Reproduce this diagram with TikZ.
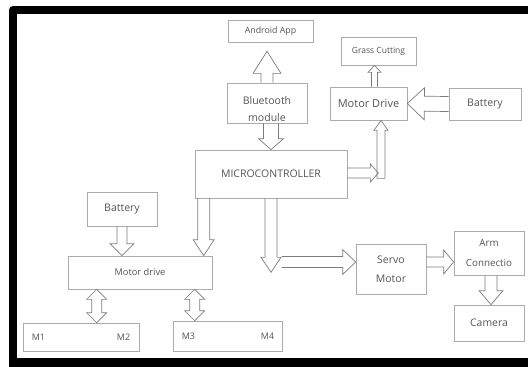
\documentclass[tikz,border=0pt]{standalone}
\usepackage{fontspec}
\setmainfont{Open Sans}
\usetikzlibrary{calc}
\definecolor{boxc}{HTML}{ABABAB}
\definecolor{arrc}{HTML}{7C7C7C}
\definecolor{txtc}{HTML}{555555}
\tikzset{
  box/.style={draw=boxc, line width=0.7pt, fill=white, text=txtc,
    font=\fontsize{8.5}{15}\selectfont, align=center, inner sep=1pt},
  txt/.style={text=txtc, font=\fontsize{8.5}{15}\selectfont, align=center, inner sep=1pt},
  fsz/.style 2 args={font=\fontsize{#1}{#2}\selectfont},
  barr/.style={draw=arrc, line width=0.7pt, line join=miter},
}
% single block arrow: from, to, shaft half, head half, head length
\newcommand\barrow[5]{%
  \coordinate (bh) at ($(#2)!#5pt!(#1)$);
  \draw[barr] ($(#1)!#3pt!90:(#2)$) -- ($(bh)!#3pt!90:(#2)$) -- ($(bh)!#4pt!90:(#2)$)
     -- (#2) -- ($(bh)!#4pt!-90:(#2)$) -- ($(bh)!#3pt!-90:(#2)$) -- ($(#1)!#3pt!-90:(#2)$);}
% closed single block arrow
\newcommand\cbarrow[5]{%
  \coordinate (bh) at ($(#2)!#5pt!(#1)$);
  \draw[barr] ($(#1)!#3pt!90:(#2)$) -- ($(bh)!#3pt!90:(#2)$) -- ($(bh)!#4pt!90:(#2)$)
     -- (#2) -- ($(bh)!#4pt!-90:(#2)$) -- ($(bh)!#3pt!-90:(#2)$) -- ($(#1)!#3pt!-90:(#2)$) -- cycle;}
% double block arrow
\newcommand\dbarrow[5]{%
  \coordinate (bha) at ($(#1)!#5pt!(#2)$);
  \coordinate (bhb) at ($(#2)!#5pt!(#1)$);
  \draw[barr] (#1) -- ($(bha)!#4pt!90:(#2)$) -- ($(bha)!#3pt!90:(#2)$) -- ($(bhb)!#3pt!90:(#2)$)
     -- ($(bhb)!#4pt!90:(#2)$) -- (#2) -- ($(bhb)!#4pt!-90:(#2)$) -- ($(bhb)!#3pt!-90:(#2)$)
     -- ($(bha)!#3pt!-90:(#2)$) -- ($(bha)!#4pt!-90:(#2)$) -- cycle;}
\begin{document}
\begin{tikzpicture}[x=1pt,y=-1pt]
\useasboundingbox (0,0) rectangle (528,367);
\begin{scope}
  \clip (0,0) rectangle (528,367);
  \fill[white] (0,0) rectangle (528,367);
  \fill[black, rounded corners=4pt] (9,6) rectangle (560,380);
  \fill[white] (17,14) rectangle (560,358);
\end{scope}

% boxes
\node[box, fsz={8.8}{15}, minimum width=85pt, minimum height=22pt] (an) at (270.5,31) {Android App};
\node[box, minimum width=80pt, minimum height=40pt] (bt) at (267,103) {};
\node[txt, fsz={10.5}{17}] (btt) at ($(bt.center)+(0,6)$) {Bluetooth\\module};
\node[box, fsz={10.5}{15}, minimum width=152pt, minimum height=48pt] (mc) at (271,174) {MICROCONTROLLER};
\node[box, fsz={8.5}{15}, minimum width=75pt, minimum height=28pt] (gc) at (378.5,51) {Grass Cutting};
\node[box, fsz={11}{15}, minimum width=77pt, minimum height=33pt] (md1) at (368.5,103.5) {Motor Drive};
\node[box, fsz={10.5}{15}, minimum width=72pt, minimum height=32pt] (bat1) at (485,104) {Battery};
\node[box, fsz={10.5}{15}, minimum width=70pt, minimum height=34pt] (bat2) at (122,209) {Battery};
\node[box, fsz={9.3}{15}, minimum width=144pt, minimum height=33pt] (md2) at (140,272.5) {Motor drive};
\node[box, minimum width=116pt, minimum height=28pt] (m12) at (81,337) {};
\node[txt, fsz={9}{15}, anchor=west] (m1) at ($(m12.west)+(8,0)$) {M1};
\node[txt, fsz={9}{15}, anchor=east] (m2) at ($(m12.east)+(-8,0)$) {M2};
\node[box, minimum width=109pt, minimum height=30pt] (m34) at (227.5,336) {};
\node[txt, fsz={9}{15}, anchor=west] (m3) at ($(m34.west)+(8,0)$) {M3};
\node[txt, fsz={9}{15}, anchor=east] (m4) at ($(m34.east)+(-7,0)$) {M4};
\node[box, fsz={10.5}{19}, minimum width=70pt, minimum height=50pt] (sv) at (391,269) {Servo\\Motor};
\node[box, fsz={9.8}{20}, minimum width=70pt, minimum height=44pt] (arm) at (489,253) {Arm\\Connectio};
\node[box, fsz={10.4}{15}, minimum width=70pt, minimum height=36pt] (cam) at (489,323) {Camera};

% connector end points
\coordinate (a1s) at (bt.north);
\coordinate (a1e) at ($(bt.north |- an.south)+(0,9)$);
\coordinate (a2s) at ($(bt.south)+(4,0)$);
\coordinate (a2e) at (a2s |- mc.north);
\coordinate (r1s) at ($(mc.east)+(0,-1)$);
\coordinate (r1e) at ($(r1s)+(31,0)$);
\coordinate (u1e) at ($(md1.south)+(12.5,0)$);
\coordinate (u1s) at ($(u1e)+(0,58)$);
\coordinate (b1s) at (bat1.west);
\coordinate (b1e) at (md1.east);
\coordinate (g1s) at ($(md1.north)+(6,0)$);
\coordinate (g1e) at (g1s |- gc.south);
\coordinate (l1s) at ($(mc.south west)+(9,0)$);
\coordinate (l1e) at (l1s |- md2.north);
\coordinate (b2s) at (bat2.south);
\coordinate (b2e) at (bat2.south |- md2.north);
\coordinate (d2s) at (mc.south);
\coordinate (d2e) at ($(mc.south)+(0,74)$);
\coordinate (r2e) at ($(sv.west)+(0,-7)$);
\coordinate (r2s) at ($(r2e)+(-74,0)$);
\coordinate (r3s) at ($(sv.east)+(0,-7)$);
\coordinate (r3e) at (r3s -| arm.west);
\coordinate (c1s) at ($(arm.south)+(2,0)$);
\coordinate (c1e) at (c1s |- cam.north);
\coordinate (m1s) at ($(md2.south west)+(29,0)$);
\coordinate (m1e) at (m1s |- m12.north);
\coordinate (m3s) at ($(md2.south west)+(127,0)$);
\coordinate (m3e) at (m3s |- m34.north);

% block arrows
\barrow{a1s}{a1e}{6}{14}{22}
\barrow{a2s}{a2e}{7.5}{12.5}{11}
\barrow{r1s}{r1e}{5}{9}{8}
\cbarrow{u1s}{u1e}{4}{7}{10}
\barrow{b1s}{b1e}{7.5}{16}{17}
\barrow{g1s}{g1e}{3}{6.5}{7}
\barrow{l1s}{l1e}{6}{10.5}{16}
\barrow{b2s}{b2e}{5}{12}{12}
\barrow{d2s}{d2e}{6}{10}{15}
\barrow{r2s}{r2e}{5.5}{12.5}{13}
\barrow{r3s}{r3e}{5}{12}{10}
\barrow{c1s}{c1e}{6}{12}{14}
\dbarrow{m1s}{m1e}{5}{10}{10}
\dbarrow{m3s}{m3e}{5}{10}{10}
\end{tikzpicture}
\end{document}
